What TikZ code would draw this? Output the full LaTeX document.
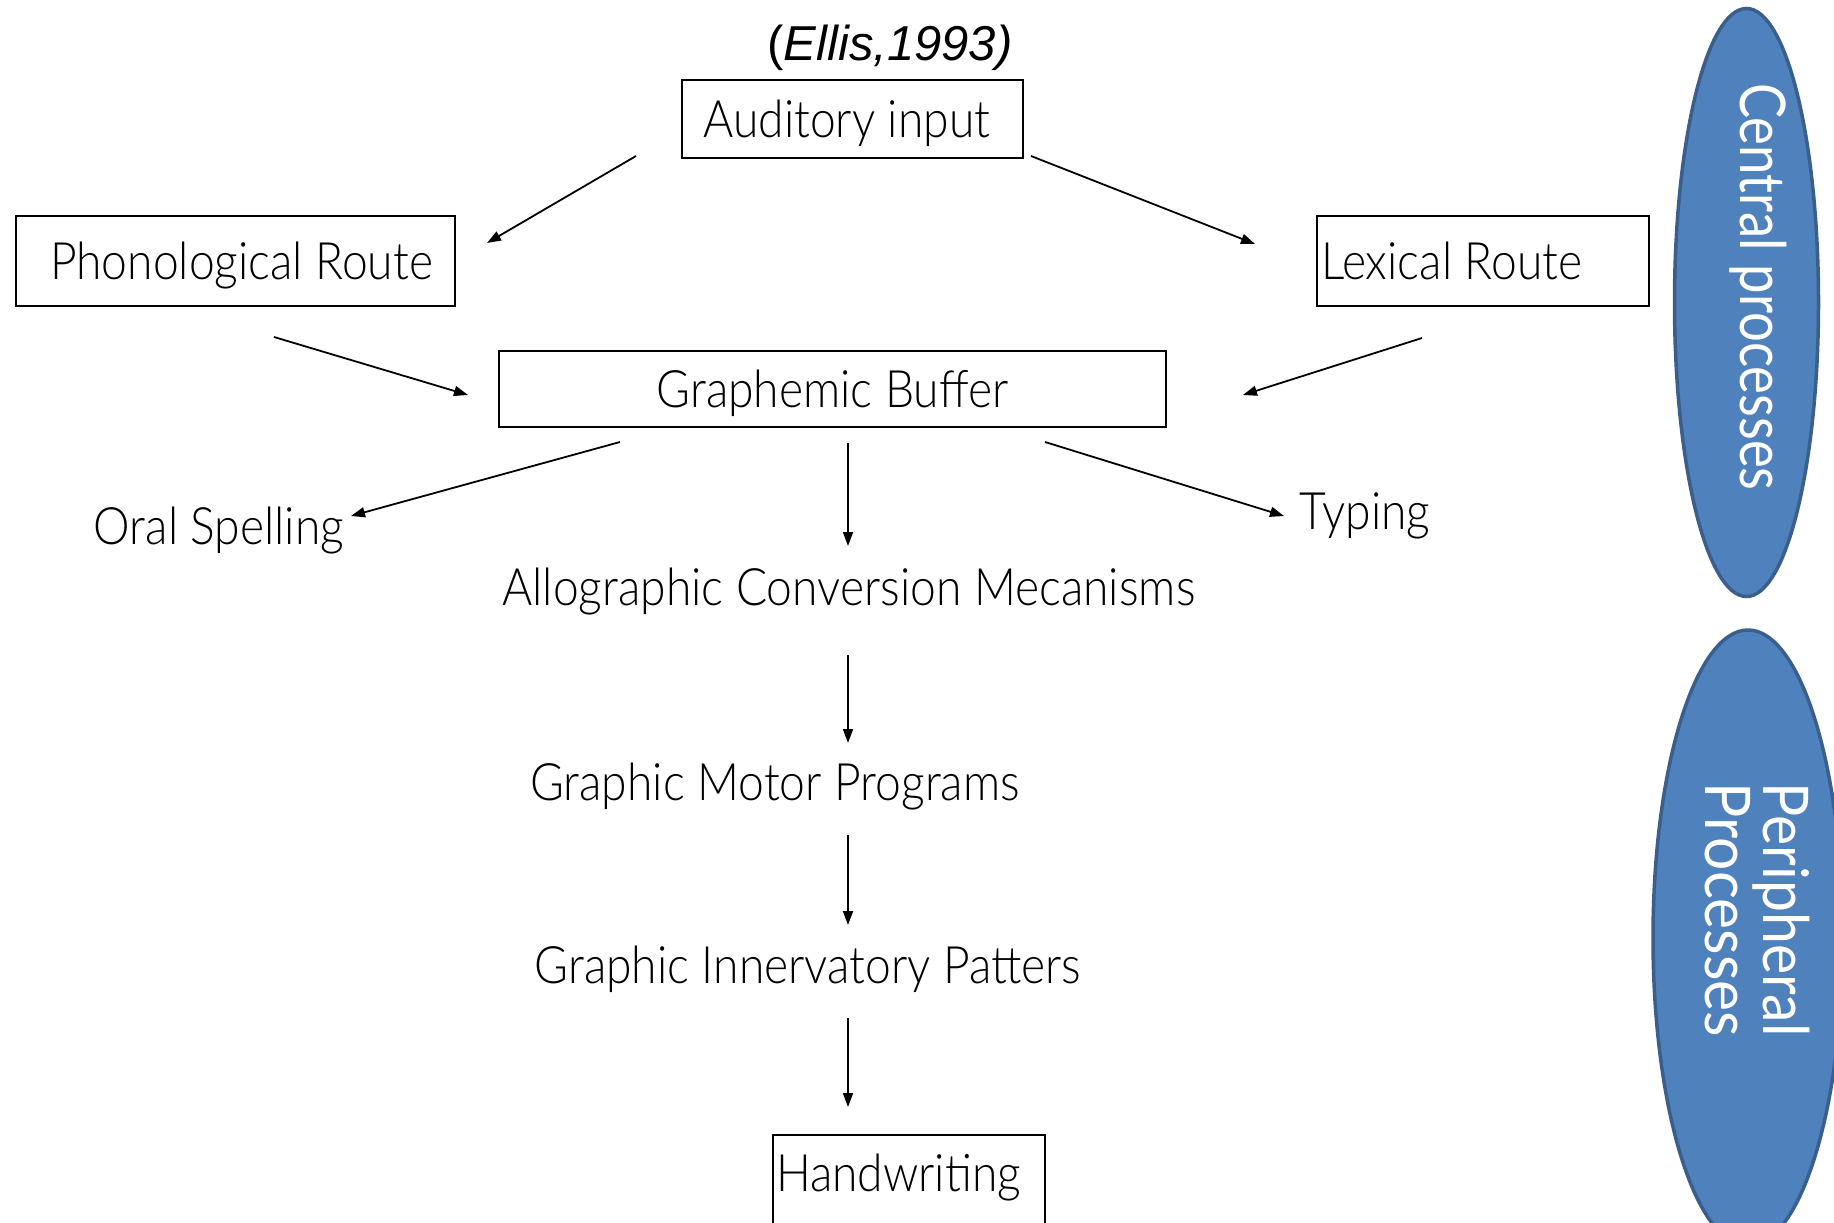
\documentclass[tikz,border=0pt]{standalone}
\usepackage{fontspec}
\setmainfont{Lato}[UprightFont={* Light}, FakeStretch=0.895]
\newfontfamily\ellfont{Lato}[FakeStretch=0.88]
\newfontfamily\arialf{Liberation Sans}
\usetikzlibrary{arrows.meta,shapes.geometric}
\definecolor{ellfill}{HTML}{4F81BD}
\definecolor{elldraw}{HTML}{3A5F8C}
\newcommand\mainsz{\fontsize{51.6pt}{62pt}\selectfont}
\newcommand\ellsz{\ellfont\fontsize{63pt}{58pt}\selectfont}
\begin{document}
\begin{tikzpicture}[x=1pt,y=-1pt,
  box/.style={draw, line width=1.8pt, inner sep=0pt, font=\mainsz, text height=37pt, text depth=0pt},
  lbl/.style={inner sep=0pt, font=\mainsz, anchor=base},
  arr/.style={line width=1.8pt, -{Triangle[length=14pt,width=10pt]}},
  oval/.style={ellipse, draw=elldraw, fill=ellfill, line width=3.5pt, inner sep=0pt},
  ovaltext/.style={text=white, font=\ellsz, rotate=-90, inner sep=0pt, align=left}]
\useasboundingbox (0,0) rectangle (1834,1223);

% title
\node[font=\arialf\fontsize{49pt}{59pt}\selectfont, anchor=base, inner sep=0pt] (ellis) at (890,61) {(\textit{Ellis,1993)}};

% boxes
\node[box, minimum width=341pt, minimum height=78pt] (aud) at (852.5,119) {\makebox[298pt][l]{Auditory input}};
\node[box, minimum width=439pt, minimum height=90pt] (phon) at (235.5,261) {\makebox[371pt][l]{Phonological Route}};
\node[box, minimum width=332pt, minimum height=90pt] (lex) at (1483,261) {\makebox[324pt][l]{Lexical Route}};
\node[box, minimum width=667pt, minimum height=76pt] (gb) at (832.5,389) {Graphemic Buffer};
\node[box, minimum width=272pt, inner ysep=19pt, text depth=30pt] (hw) at (909,1187.5) {\makebox[266pt][l]{Handwriting}};

% plain labels
\node[lbl] (oral) at (219,544) {Oral Spelling};
\node[lbl] (typ) at (1365,529) {Typing};
\node[lbl] (allo) at (849,605) {Allographic Conversion Mecanisms};
\node[lbl] (gmp) at (775,800) {Graphic Motor Programs};
\node[lbl] (gip) at (808,983) {Graphic Innervatory Patters};

% ellipses
\node[oval, minimum width=144pt, minimum height=588pt] (central) at (1746.5,302.5) {};
\node[ovaltext] (ctext) at (1758,287) {\scalebox{0.95}[1]{Central processes}};
\node[oval, minimum width=190pt, minimum height=616pt] (periph) at (1748,938) {};
\node[ovaltext] (ptext) at (1757,910) {\scalebox{1.03}[1]{Peripheral}\\\scalebox{1.06}[1]{Processes}};

% arrow end points
\coordinate (a1s) at (636,156);  \coordinate (a1e) at (487,243);
\coordinate (a2s) at (1031,156); \coordinate (a2e) at (1255,244);
\coordinate (a3s) at (274,337);  \coordinate (a3e) at (468,395);
\coordinate (a4s) at (1422,338); \coordinate (a4e) at (1243,395);
\coordinate (a5s) at (620,442);  \coordinate (a5e) at (351,516);
\coordinate (a6s) at (848,443);  \coordinate (a6e) at (848,546);
\coordinate (a7s) at (1045,442); \coordinate (a7e) at (1284,516);
\coordinate (a8s) at (848,655);  \coordinate (a8e) at (848,743);
\coordinate (a9s) at (848,835);  \coordinate (a9e) at (848,925);
\coordinate (a10s) at (848,1018); \coordinate (a10e) at (848,1107);

\draw[arr] (a1s) -- (a1e);
\draw[arr] (a2s) -- (a2e);
\draw[arr] (a3s) -- (a3e);
\draw[arr] (a4s) -- (a4e);
\draw[arr] (a5s) -- (a5e);
\draw[arr] (a6s) -- (a6e);
\draw[arr] (a7s) -- (a7e);
\draw[arr] (a8s) -- (a8e);
\draw[arr] (a9s) -- (a9e);
\draw[arr] (a10s) -- (a10e);
\end{tikzpicture}
\end{document}
